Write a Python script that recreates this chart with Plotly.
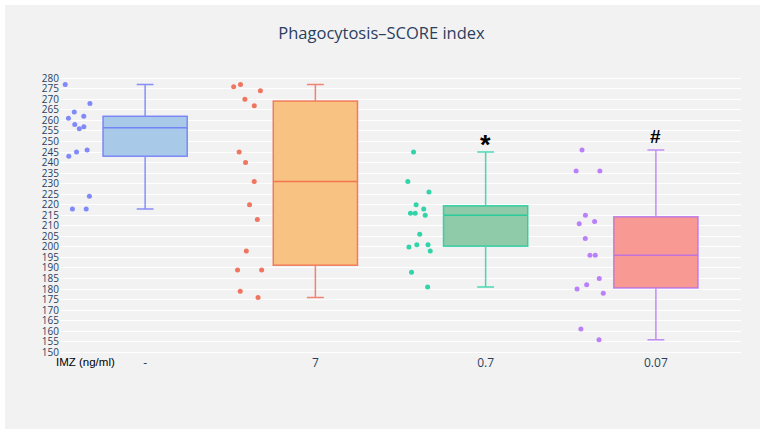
import plotly.graph_objects as go

categories = ['-', '7', '0.7', '0.07']
vals_ctrl = [277, 268, 264, 261, 262, 258, 256, 257, 243, 245, 246, 224, 218, 218]
vals_7 = [276, 277, 274, 270, 267, 245, 240, 231, 220, 213, 198, 189, 189, 179, 176]
vals_07 = [245, 231, 226, 220, 216, 216, 218, 215, 206, 200, 201, 201, 198, 188, 181]
vals_007 = [246, 236, 236, 215, 211, 212, 204, 196, 196, 185, 182, 180, 178, 161, 156]
series = [vals_ctrl, vals_7, vals_07, vals_007]
marks = ['', '', '*', '#']
mark_y = [None, None, 248.3, 252.3]
mark_size = [None, None, 27, 19]

line_colors = ['rgba(99,110,250,0.75)', 'rgba(239,85,59,0.7)', 'rgba(0,204,150,0.7)', 'rgba(171,99,250,0.7)']
marker_colors = ['#636efa', '#ef553b', '#00cc96', '#ab63fa']
fill_colors = ['#a8c9e8', '#f8c282', '#8fcaa9', '#f89a93']

W, H = 763, 434
ml, mr, mt, mb = 60, 22, 70, 80
pw, ph = W - ml - mr, H - mt - mb

fig = go.Figure()
for cat, vals, lc, mc, fc in zip(categories, series, line_colors, marker_colors, fill_colors):
    fig.add_trace(go.Box(
        x=[cat] * len(vals), y=vals, name=cat,
        boxpoints='all', pointpos=-1.55, jitter=0.4,
        width=0.495, whiskerwidth=0.2,
        line=dict(color=lc, width=1.5),
        fillcolor=fc,
        marker=dict(color=mc, size=5, opacity=0.8),
        showlegend=False,
    ))

for i, (m, my, ms) in enumerate(zip(marks, mark_y, mark_size)):
    if m:
        fig.add_annotation(x=i, y=my, text='<b>%s</b>' % m, showarrow=False,
                           font=dict(family='Arial, Liberation Sans', size=ms, color='black'),
                           yanchor='middle')

fig.add_annotation(x=(85 - ml) / pw, y=-(362 - (H - mb)) / ph, xref='paper', yref='paper',
                   text='IMZ (ng/ml)', showarrow=False, xanchor='center', yanchor='middle',
                   font=dict(family='Arial, Liberation Sans', size=11.5, color='black'))

# light grey card with white border
fig.add_shape(type='rect', xref='paper', yref='paper', layer='below',
              x0=(5 - ml) / pw, x1=(760 - ml) / pw,
              y0=((H - mb) - 429) / ph, y1=((H - mb) - 5) / ph,
              fillcolor='#f2f2f2', line=dict(width=0))

fig.update_layout(
    width=W, height=H,
    margin=dict(l=ml, r=mr, t=mt, b=mb),
    paper_bgcolor='white', plot_bgcolor='#f2f2f2',
    boxmode='overlay',
    title=dict(text='Phagocytosis–SCORE index', x=0.5, xanchor='center', y=1 - 33 / H,
               yanchor='middle',
               font=dict(family='Open Sans', size=16.5, color='#2a3f5f')),
    font=dict(color='#2a3f5f'),
)
fig.update_xaxes(type='category', categoryorder='array', categoryarray=categories,
                 range=[-0.5, 3.5], showgrid=False, zeroline=False, showline=False,
                 tickfont=dict(size=12, color='#2a3f5f'))
fig.update_yaxes(range=[149.2, 283.9], dtick=5, tick0=150, showgrid=True,
                 gridcolor='white', gridwidth=1, zeroline=False, showline=False,
                 tickfont=dict(size=10, color='#2a3f5f'))

fig.write_html('out.html')
